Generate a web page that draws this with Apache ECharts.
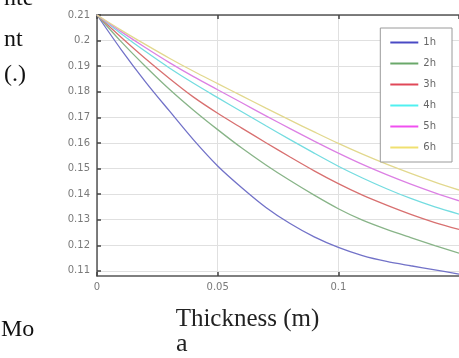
<!DOCTYPE html>
<html><head><meta charset="utf-8">
<script src="https://cdn.jsdelivr.net/npm/echarts@6/dist/echarts.min.js"></script>
<style>html,body{margin:0;padding:0;background:#fff}#c{width:459px;height:358px}</style>
</head><body><div id="c"></div>
<script>
const thickness = [0,0.01,0.02,0.03,0.04,0.05,0.06,0.07,0.08,0.09,0.1,0.11,0.12,0.13,0.14,0.15];
const s1h = [0.21,0.1965,0.184,0.1725,0.1612,0.151,0.1425,0.1348,0.1285,0.1233,0.1192,0.1160,0.1137,0.1120,0.1104,0.1087];
const s2h = [0.21,0.1996,0.1900,0.1810,0.1728,0.1652,0.1580,0.1514,0.1453,0.1396,0.1343,0.1298,0.1262,0.1230,0.1199,0.1169];
const s3h = [0.21,0.2013,0.1930,0.1852,0.1779,0.1716,0.1658,0.1601,0.1545,0.1491,0.1441,0.1396,0.1357,0.1321,0.1289,0.1262];
const s4h = [0.21,0.2027,0.1958,0.1893,0.1833,0.1777,0.1722,0.1667,0.1613,0.1560,0.1509,0.1463,0.1421,0.1383,0.1350,0.1322];
const s5h = [0.21,0.2035,0.1973,0.1914,0.1859,0.1808,0.1757,0.1706,0.1656,0.1607,0.1560,0.1516,0.1476,0.1439,0.1405,0.1374];
const s6h = [0.21,0.2041,0.1985,0.1931,0.1880,0.1832,0.1784,0.1736,0.1689,0.1643,0.1598,0.1556,0.1517,0.1481,0.1447,0.1416];
const seriesNames = ['1h','2h','3h','4h','5h','6h'];
const lineColors = ['#7272c8','#88b488','#d87070','#74dce0','#dc80e4','#e2d88e'];
const legendColors = ['#4a4ac4','#6aa86a','#e04858','#50f0f0','#f050f0','#f0e070'];
const yTicks = [0.11,0.12,0.13,0.14,0.15,0.16,0.17,0.18,0.19,0.2,0.21];

const allData = [s1h,s2h,s3h,s4h,s5h,s6h];
const chart = echarts.init(document.getElementById('c'), null, {renderer:'canvas'});
const labelStyle = {color:'#7a7a7a', fontSize:10, fontFamily:'DejaVu Sans'};
const serif = '"Liberation Serif"';
chart.setOption({
  animation:false,
  grid:{left:97, top:15, width:364, height:261},
  legend:{
    orient:'vertical', right:7, top:28,
    data:seriesNames.map((n,i)=>({name:n, itemStyle:{color:legendColors[i]}})),
    itemWidth:28, itemHeight:2, itemGap:0,
    icon:'rect',
    backgroundColor:'#fff', borderColor:'#9a9a9a', borderWidth:1,
    padding:[4,16,4,10],
    textStyle:{color:'#666', fontSize:10, lineHeight:21, fontFamily:'DejaVu Sans'}
  },
  xAxis:[{
    type:'value', min:0, max:0.15, interval:0.05,
    axisLine:{lineStyle:{color:'#555', width:1.5}},
    axisTick:{inside:true, length:4, lineStyle:{color:'#444', width:1.5}},
    axisLabel:Object.assign({margin:6, showMaxLabel:false, formatter:v=>String(v)}, labelStyle),
    splitLine:{show:true, lineStyle:{color:'#e0e0e0'}}
  },{
    type:'value', position:'top', min:0, max:0.15, interval:0.05,
    axisLine:{lineStyle:{color:'#555', width:1.5}},
    axisTick:{inside:true, length:4, lineStyle:{color:'#444', width:1.5}},
    axisLabel:{show:false}, splitLine:{show:false}
  }],
  yAxis:{
    type:'value', min:0.108, max:0.21,
    axisLine:{show:true, lineStyle:{color:'#555', width:1.5}},
    axisTick:{show:true, inside:true, length:4, customValues:yTicks, lineStyle:{color:'#444', width:1.5}},
    axisLabel:Object.assign({margin:7, customValues:yTicks, formatter:v=>String(v)}, labelStyle),
    splitLine:{show:true, lineStyle:{color:'#e0e0e0'}}
  },
  graphic:[
    {type:'text', x:4, y:-1.2, style:{text:'nte', font:'24px '+serif, fill:'#111', verticalAlign:'middle'}},
    {type:'text', x:4, y:39.8, style:{text:'nt', font:'24px '+serif, fill:'#111', verticalAlign:'middle'}},
    {type:'text', x:4, y:74.8, style:{text:'(.)', font:'24px '+serif, fill:'#111', verticalAlign:'middle'}},
    {type:'text', x:1, y:329.8, style:{text:'Mo', font:'24px '+serif, fill:'#111', verticalAlign:'middle'}},
    {type:'text', x:247.5, y:319.5, style:{text:'Thickness (m)', font:'25px '+serif, fill:'#222', align:'center', verticalAlign:'middle'}},
    {type:'text', x:176, y:344, style:{text:'a', font:'26px '+serif, fill:'#222', verticalAlign:'middle'}}
  ],
  series: seriesNames.map((n,i)=>({
    name:n, type:'line', smooth:0.3, showSymbol:false, xAxisIndex:0,
    color:lineColors[i],
    lineStyle:{width:1.3, color:lineColors[i]},
    data: thickness.map((x,j)=>[x, allData[i][j]])
  }))
});
</script></body></html>
